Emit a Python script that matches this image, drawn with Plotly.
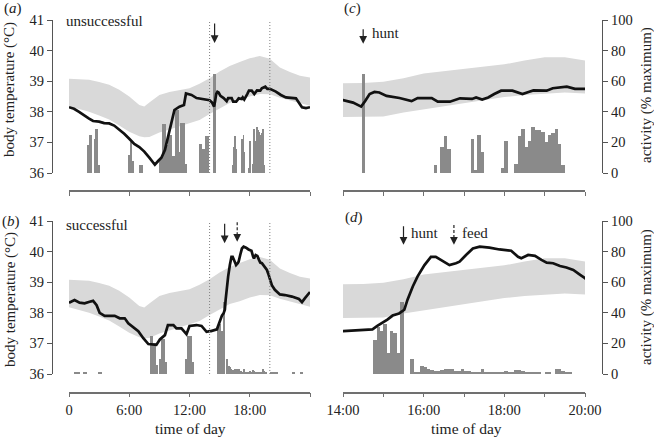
import plotly.graph_objects as go

# ---------------- data ----------------
# body-temperature traces (hours since midnight, deg C)
t_unsucc = [0, 0.5, 1.0, 1.5, 2.0, 2.4, 3.0, 3.5, 4.0, 4.5, 5.0, 5.5, 6.0, 6.5, 7.0, 7.5, 8.0,
            8.55, 8.9, 9.2, 9.55, 9.9, 10.2, 10.5, 11.0, 11.45, 11.65, 12.2, 12.7, 13.4, 13.9,
            14.0, 14.25, 14.45, 14.55, 14.66, 14.78, 14.9, 15.08, 15.4, 15.7, 15.85, 16.2, 16.35,
            16.65, 16.9, 17.2, 17.3, 17.45, 17.6, 17.75, 17.92, 18.2, 18.45, 18.6, 18.72, 19.05,
            19.2, 19.55, 19.75, 20.0, 20.6, 21.1, 21.6, 22.6, 22.9, 23.2, 23.6, 24.0]
temp_unsucc = [38.15, 38.1, 38.0, 37.88, 37.78, 37.7, 37.68, 37.63, 37.62, 37.55, 37.42, 37.28,
               37.12, 36.95, 36.85, 36.7, 36.5, 36.27, 36.4, 36.5, 36.75, 37.2, 37.62, 38.06,
               38.17, 38.22, 38.6, 38.55, 38.45, 38.41, 38.38,
               38.38, 38.3, 38.17, 38.35, 38.58, 38.65, 38.63, 38.52, 38.45, 38.35, 38.45, 38.45,
               38.33, 38.33, 38.44, 38.42, 38.47, 38.4, 38.47, 38.58, 38.69, 38.69, 38.58, 38.65,
               38.7, 38.69, 38.77, 38.82, 38.75, 38.75, 38.66, 38.55, 38.47, 38.44, 38.28, 38.15,
               38.12, 38.15]

t_succ = [0, 0.55, 1.05, 1.55, 2.05, 2.4, 2.75, 3.05, 3.55, 4.55, 5.05, 5.55, 5.9, 6.4, 6.9, 7.4,
          7.9, 8.7, 9.05, 9.55, 9.85, 10.4, 10.7, 11.2, 11.7, 12.0, 12.7, 13.2, 13.7, 14.0, 14.15,
          14.73, 14.85, 14.98, 15.1, 15.23, 15.39, 15.52, 15.6, 15.73, 15.85, 16.02, 16.18, 16.3,
          16.47, 16.64, 16.8, 16.89, 17.05, 17.22, 17.39, 17.63, 17.88, 18.17, 18.34, 18.42, 18.59,
          18.76, 18.92, 19.05, 19.21, 19.38, 19.54, 19.71, 19.88, 20.0, 20.2, 20.5, 21.0, 21.5,
          22.2, 22.9, 23.2, 23.5, 24.0]
temp_succ = [38.33, 38.42, 38.33, 38.31, 38.36, 38.39, 38.25, 38.0, 37.9, 37.9, 37.82, 37.82,
             37.66, 37.53, 37.4, 37.17, 36.98, 36.95, 37.13, 37.27, 37.6, 37.6, 37.49, 37.49,
             37.3, 37.57, 37.6, 37.57, 37.38, 37.4, 37.4, 37.46, 37.57, 37.67, 37.78, 37.91,
             37.98, 38.1, 38.43, 38.86, 39.19, 39.56, 39.83, 39.83, 39.69, 39.56, 39.62, 39.67,
             39.89, 40.1, 40.16, 40.13, 40.07, 40.03, 39.83, 39.78, 39.89, 39.86, 39.73, 39.64,
             39.62, 39.53, 39.48, 39.4, 39.24, 39.13, 38.9, 38.75, 38.6, 38.58, 38.53, 38.45,
             38.35, 38.48, 38.68]

# reference band, whole day (deg C)
band_t = [0, 1, 2, 3, 4, 5, 6, 7, 7.5, 8, 9, 10, 11, 12, 13, 14, 15, 16, 17, 18, 19, 20, 21, 22, 23, 24]
band_hi = [39.08, 39.07, 39.05, 38.97, 38.88, 38.72, 38.5, 38.22, 38.17, 38.3, 38.55, 38.65, 38.72,
           38.77, 38.92, 39.1, 39.32, 39.5, 39.63, 39.75, 39.82, 39.73, 39.45, 39.3, 39.18, 39.12]
band_lo = [38.18, 38.1, 38.0, 37.88, 37.75, 37.55, 37.35, 37.2, 37.17, 37.18, 37.32, 37.42, 37.52,
           37.63, 37.73, 37.93, 38.12, 38.29, 38.38, 38.5, 38.58, 38.57, 38.46, 38.37, 38.28, 38.2]

# reference band, 14:00-20:00 detail (deg C)
band2_t = [14, 14.5, 15, 15.5, 16, 16.5, 17, 17.5, 18, 18.5, 19, 19.5, 20]
band2_hi = [38.93, 38.94, 38.98, 39.1, 39.25, 39.33, 39.4, 39.48, 39.55, 39.68, 39.78, 39.78, 39.68]
band2_lo = [37.83, 37.84, 37.85, 37.98, 38.08, 38.2, 38.3, 38.38, 38.48, 38.55, 38.6, 38.63, 38.6]

# activity (% maximum): bin start / end (minutes of day) and value
act_u_start = [111, 117, 150, 156, 174, 354, 363, 378, 420, 537, 558, 579, 594, 615, 636, 657, 666,
               693, 774, 795, 813,
               975, 985, 990, 995, 1030, 1035, 1040, 1045, 1075, 1080, 1095, 1100, 1105, 1110, 1115,
               1120, 1125, 1130, 1135, 1140, 1145, 1150, 1155, 1160, 1165]
act_u_end = [117, 138, 156, 174, 183, 363, 378, 390, 441, 558, 579, 594, 615, 636, 657, 666, 693,
             705, 795, 813, 837,
             980, 990, 995, 1000, 1035, 1040, 1045, 1050, 1080, 1085, 1100, 1105, 1110, 1115, 1120,
             1125, 1130, 1135, 1140, 1145, 1150, 1155, 1160, 1165, 1170]
act_u = [18, 25, 22, 29, 5, 12, 20, 8, 5, 10, 32, 18, 25, 11, 41, 14, 33, 6, 19, 16, 24,
         5, 17, 24, 16, 22, 2, 25, 14, 3, 21, 6, 24, 29, 17, 21, 30, 28, 28, 27, 20, 25, 26, 29, 19, 5]

act_s_start = [30, 84, 174, 483, 504, 522, 540, 549, 576, 696, 705, 735,
               885, 890, 895, 900, 905, 910, 915, 920, 925, 940, 945, 950, 955, 960, 965, 970, 975,
               980, 985, 990, 995, 1000, 1005, 1010, 1015, 1020, 1025, 1030, 1035, 1040, 1045, 1050,
               1055, 1060, 1065, 1070, 1075, 1080, 1085, 1090, 1095, 1100, 1105, 1110, 1115, 1120,
               1125, 1130, 1140, 1145, 1155, 1160, 1165, 1170, 1175,
               1200, 1218, 1332, 1380]
act_s_end = [66, 108, 198, 504, 522, 531, 549, 576, 588, 705, 735, 744,
             890, 895, 900, 905, 910, 915, 920, 925, 930, 945, 950, 955, 960, 965, 970, 975, 980,
             985, 990, 995, 1000, 1005, 1010, 1015, 1020, 1025, 1030, 1035, 1040, 1045, 1050, 1055,
             1060, 1065, 1070, 1075, 1080, 1085, 1090, 1095, 1100, 1105, 1110, 1115, 1120, 1125,
             1130, 1135, 1145, 1150, 1160, 1165, 1170, 1175, 1180,
             1218, 1248, 1350, 1398]
act_s = [1, 1, 1, 25, 20, 6, 10, 23, 8, 10, 25, 8,
         22, 31, 28, 33, 14, 28, 27, 14, 47, 9.5, 1, 1, 5, 4.5, 3.5, 2.5, 2, 2, 2.5, 3.5, 3.5, 3,
         2, 2, 3, 2, 2, 1.5, 1.5, 1.5, 3.5, 1.5, 1.5, 1.5, 1.5, 1.5, 1.5, 2, 1, 1, 2.5, 2.5, 2,
         1.5, 1.5, 1.5, 1.5, 1.5, 1, 1, 3.5, 3.5, 2, 1.5, 1.5,
         1.5, 1, 1, 1]

hunt_u_time = [14.5]
hunt_u_act = [64.5]

hunt_u, hunt_s, feed_s = 14.5, 15.5, 16.75
obs_window = [14, 20]

day_ticks = [0, 6, 12, 18, 24]
day_ticktext = ["0", "6:00", "12:00", "18:00", ""]
zoom_ticks = [14, 15, 16, 17, 18, 19, 20]
zoom_ticktext = ["14:00", "", "16:00", "", "18:00", "", "20:00"]
temp_ticks = [36, 37, 38, 39, 40, 41]
act_ticks = [0, 20, 40, 60, 80, 100]

# ---------------- style ----------------
W, H = 654, 438
def fx(px):
    return px / W
def fy(py):
    return 1 - py / H

FONT = "Liberation Serif"
BAND = "#d9d9d9"
BARC = "#8a8a8a"
LINEC = "#111111"
AX = "#555555"
XAX = "#707070"
TXT = "#222222"

fig = go.Figure()

def mids(s, e):
    return [(a + b) / 120 for a, b in zip(s, e)]
def widths(s, e):
    return [(b - a) / 60 for a, b in zip(s, e)]

def add_panel(xa, band_axis, bar_axis, line_axis, bt, bh, bl, s, e, v, tt, tv, hunt_w=None):
    fig.add_trace(go.Scatter(x=bt, y=bl, mode="lines", line=dict(width=0, color=BAND),
                             xaxis=xa, yaxis=band_axis, hoverinfo="skip", showlegend=False))
    fig.add_trace(go.Scatter(x=bt, y=bh, mode="lines", line=dict(width=0, color=BAND),
                             fill="tonexty", fillcolor=BAND,
                             xaxis=xa, yaxis=band_axis, hoverinfo="skip", showlegend=False))
    fig.add_trace(go.Bar(x=mids(s, e), y=v, width=widths(s, e),
                         marker=dict(color=BARC, line=dict(width=0)),
                         xaxis=xa, yaxis=bar_axis, showlegend=False))
    if hunt_w is not None:
        fig.add_trace(go.Bar(x=hunt_u_time, y=hunt_u_act, width=[hunt_w],
                             marker=dict(color=BARC, line=dict(width=0)),
                             xaxis=xa, yaxis=bar_axis, showlegend=False))
    fig.add_trace(go.Scatter(x=tt, y=tv, mode="lines", line=dict(width=2.7, color=LINEC),
                             xaxis=xa, yaxis=line_axis, showlegend=False))

add_panel("x", "y", "y5", "y9", band_t, band_hi, band_lo, act_u_start, act_u_end, act_u,
          t_unsucc, temp_unsucc, hunt_w=0.33)
add_panel("x2", "y2", "y6", "y10", band_t, band_hi, band_lo, act_s_start, act_s_end, act_s,
          t_succ, temp_succ)
add_panel("x3", "y3", "y7", "y11", band2_t, band2_hi, band2_lo, act_u_start, act_u_end, act_u,
          t_unsucc, temp_unsucc, hunt_w=0.082)
add_panel("x4", "y4", "y8", "y12", band2_t, band2_hi, band2_lo, act_s_start, act_s_end, act_s,
          t_succ, temp_succ)

tickfont = dict(family=FONT, size=14.5, color=TXT)

def xax(dom, rng, pos, tv, tt, labels):
    return dict(domain=dom, range=rng, anchor="free", position=pos, showline=True,
                linecolor=XAX, linewidth=1.5, ticks="outside", ticklen=4, tickwidth=1.2,
                tickcolor=XAX, tickvals=tv, ticktext=tt, showticklabels=labels,
                showgrid=False, zeroline=False, tickfont=tickfont, fixedrange=True)

def yvis(dom, rng, tv, pos, side="left", overlay=None):
    d = dict(range=rng, anchor="free", position=pos, side=side, showline=True,
             linecolor=AX, linewidth=1, ticks="outside", ticklen=5, tickwidth=1,
             tickcolor=AX, tickvals=tv, showgrid=False, zeroline=False, tickfont=tickfont)
    if overlay:
        d["overlaying"] = overlay
    else:
        d["domain"] = dom
    return d

def yhid(rng, overlay=None, dom=None, anchor="x"):
    d = dict(range=rng, visible=False, showgrid=False, zeroline=False, anchor=anchor)
    if overlay:
        d["overlaying"] = overlay
    else:
        d["domain"] = dom
    return d

xdomL = [fx(69), fx(310)]
xdomR = [fx(343), fx(585)]
ydomT = [fy(173), fy(20)]
ydomB = [fy(374), fy(221)]

fig.update_layout(
    width=W, height=H, margin=dict(l=0, r=0, t=0, b=0, pad=0, autoexpand=False), autosize=False,
    paper_bgcolor="white", plot_bgcolor="rgba(0,0,0,0)", barmode="overlay", bargap=0,
    showlegend=False, font=dict(family=FONT, color=TXT),
    xaxis=xax(xdomL, [0, 24], fy(191), day_ticks, day_ticktext, False),
    xaxis2=xax(xdomL, [0, 24], fy(392.5), day_ticks, day_ticktext, True),
    xaxis3=xax(xdomR, [14, 20], fy(191), zoom_ticks, zoom_ticktext, False),
    xaxis4=xax(xdomR, [14, 20], fy(392.5), zoom_ticks, zoom_ticktext, True),
    yaxis=yvis(ydomT, [36, 41], temp_ticks, fx(52)),
    yaxis2=yvis(ydomB, [36, 41], temp_ticks, fx(52)),
    yaxis3=yhid([36, 41], dom=ydomT, anchor="x3"),
    yaxis4=yhid([36, 41], dom=ydomB, anchor="x4"),
    yaxis5=yhid([0, 100], overlay="y", anchor="x"),
    yaxis6=yhid([0, 100], overlay="y2", anchor="x2"),
    yaxis7=yvis(None, [0, 100], act_ticks, fx(602), side="right", overlay="y3"),
    yaxis8=yvis(None, [0, 100], act_ticks, fx(602), side="right", overlay="y4"),
    yaxis9=yhid([36, 41], overlay="y", anchor="x"),
    yaxis10=yhid([36, 41], overlay="y2", anchor="x2"),
    yaxis11=yhid([36, 41], overlay="y3", anchor="x3"),
    yaxis12=yhid([36, 41], overlay="y4", anchor="x4"),
)

# observation window (dotted lines)
for xa in ["x", "x2"]:
    ya = "y" if xa == "x" else "y2"
    for xv in obs_window:
        fig.add_shape(type="line", xref=xa, yref=ya + " domain", x0=xv, x1=xv, y0=0, y1=1,
                      line=dict(color="#808080", width=1, dash="1px,2px"), layer="above")

# arrows
ARC = "#222222"
def arrow(xa, ya, x, y, length):
    fig.add_annotation(xref=xa, yref=ya, x=x, y=y, ax=0, ay=-length, text="", showarrow=True,
                       arrowhead=2, arrowsize=1.3, arrowwidth=1.2, arrowcolor=ARC, standoff=0)

def dashed_arrow(xa, ya, x, y_tail, y_head_base, y_tip):
    fig.add_shape(type="line", xref=xa, yref=ya, x0=x, x1=x, y0=y_tail, y1=y_head_base,
                  line=dict(color=ARC, width=1.2, dash="3px,2px"))
    arrow(xa, ya, x, y_tip, 6)

arrow("x", "y", hunt_u, 40.25, 21)
arrow("x2", "y2", hunt_s, 40.27, 21)
dashed_arrow("x2", "y2", feed_s, 40.96, 40.45, 40.32)
arrow("x3", "y7", hunt_u, 84.5, 16)
arrow("x4", "y8", hunt_s, 84.4, 20)
dashed_arrow("x4", "y8", feed_s, 97.4, 88.0, 84.4)

def txt(x, y, s, size=15, xanchor="left", angle=0):
    fig.add_annotation(xref="paper", yref="paper", x=x, y=y, text=s, showarrow=False,
                       xanchor=xanchor, yanchor="middle", textangle=angle,
                       font=dict(family=FONT, size=size, color=TXT))

txt(fx(2), fy(8), "(<i>a</i>)", 15)
txt(fx(0), fy(221), "(<i>b</i>)", 15)
txt(fx(342), fy(9), "(<i>c</i>)", 15)
txt(fx(343), fy(218), "(<i>d</i>)", 15)
txt(fx(64), fy(21), "unsuccessful", 15)
txt(fx(64), fy(225), "successful", 15)
txt(fx(370), fy(33), "hunt", 15)
txt(fx(409), fy(233), "hunt", 15)
txt(fx(460), fy(233), "feed", 15)
txt(fx(10), fy(90), "body temperature (°C)", 15, xanchor="center", angle=-90)
txt(fx(10), fy(300), "body temperature (°C)", 15, xanchor="center", angle=-90)
txt(fx(646), fy(95), "activity (% maximum)", 15, xanchor="center", angle=-90)
txt(fx(646), fy(297), "activity (% maximum)", 15, xanchor="center", angle=-90)
txt(fx(190), fy(428), "time of day", 15.5, xanchor="center")
txt(fx(466), fy(428), "time of day", 15.5, xanchor="center")

fig.write_html("out.html", config={"displayModeBar": False},
               post_script="document.body.style.margin='0';document.body.style.overflow='hidden';")
